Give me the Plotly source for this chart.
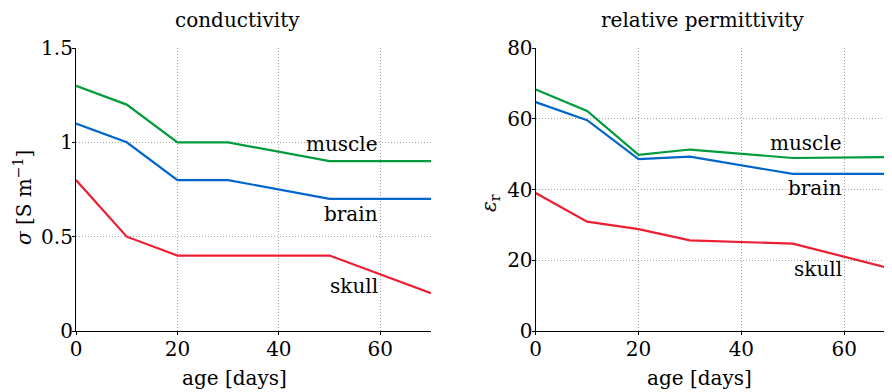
import plotly.graph_objects as go

# data
age = [0, 10, 20, 30, 50, 70]
cond_muscle = [1.3, 1.2, 1.0, 1.0, 0.9, 0.9]
cond_brain = [1.1, 1.0, 0.8, 0.8, 0.7, 0.7]
cond_skull_age = [0, 10, 20, 50, 70]
cond_skull = [0.8, 0.5, 0.4, 0.4, 0.2]

perm_muscle = [68.3, 62.2, 49.8, 51.3, 48.9, 49.2]
perm_brain = [64.7, 59.6, 48.6, 49.3, 44.4, 44.4]
perm_skull_age = [0, 10, 20, 30, 50, 60, 70]
perm_skull = [39.0, 30.9, 28.8, 25.6, 24.7, 21.0, 17.3]

cond_ticks = [0, 0.5, 1, 1.5]
cond_ticklabels = ["0", "0.5", "1", "1.5"]
perm_ticks = [0, 20, 40, 60, 80]
age_ticks = [0, 20, 40, 60]

GREEN = "rgb(0,155,60)"
BLUE = "rgb(0,102,204)"
RED = "rgb(237,30,50)"
FONT = "DejaVu Serif"
FS = 20

# page body has an 8px default margin: lay out in screen pixels, shifted by OFF
OFF = 8
W, H = 892 - OFF, 392 - OFF
MT = 48 - OFF
MB = H - (331 - OFF)
PH = H - MT - MB

def px_x(p):
    return (p - OFF) / W

def px_y(p):
    return (H - MB - (p - OFF)) / PH

fig = go.Figure()
lw = 2.2
fig.add_trace(go.Scatter(x=age, y=cond_muscle, mode="lines", line=dict(color=GREEN, width=lw), xaxis="x", yaxis="y"))
fig.add_trace(go.Scatter(x=age, y=cond_brain, mode="lines", line=dict(color=BLUE, width=lw), xaxis="x", yaxis="y"))
fig.add_trace(go.Scatter(x=cond_skull_age, y=cond_skull, mode="lines", line=dict(color=RED, width=lw), xaxis="x", yaxis="y"))
fig.add_trace(go.Scatter(x=age, y=perm_muscle, mode="lines", line=dict(color=GREEN, width=lw), xaxis="x2", yaxis="y2"))
fig.add_trace(go.Scatter(x=age, y=perm_brain, mode="lines", line=dict(color=BLUE, width=lw), xaxis="x2", yaxis="y2"))
fig.add_trace(go.Scatter(x=perm_skull_age, y=perm_skull, mode="lines", line=dict(color=RED, width=lw), xaxis="x2", yaxis="y2"))

axis_common = dict(
    showline=True, linecolor="black", linewidth=1.2, mirror=False,
    showgrid=True, gridcolor="rgb(165,165,165)", griddash="1px,2px", gridwidth=1,
    zeroline=False, ticks="outside", ticklen=3, tickcolor="black",
    tickfont=dict(family=FONT, size=FS, color="black"),
    automargin=False,
)
xa = dict(axis_common, ticklabelstandoff=-3)
ya = dict(axis_common, ticklabelstandoff=-5)

fig.update_layout(
    width=W, height=H,
    margin=dict(l=0, r=0, t=MT, b=MB, autoexpand=False),
    paper_bgcolor="white", plot_bgcolor="white",
    showlegend=False,
    font=dict(family=FONT, size=FS, color="black"),
    xaxis=dict(domain=[px_x(76), px_x(431)], range=[0, 70], tickvals=age_ticks, anchor="y", **xa),
    yaxis=dict(domain=[0, 1], range=[0, 1.5], tickvals=cond_ticks, ticktext=cond_ticklabels, anchor="x", **ya),
    xaxis2=dict(domain=[px_x(535.7), 1.0], range=[0, 69.3], tickvals=age_ticks, anchor="y2", **xa),
    yaxis2=dict(domain=[0, 1], range=[0, 80], tickvals=perm_ticks, anchor="x2", **ya),
)

ann = []
def add_text(text, x, y, xref, yref, xanchor="center", angle=0):
    ann.append(dict(text=text, x=x, y=y, xref=xref, yref=yref, xanchor=xanchor,
                    yanchor="middle", showarrow=False, textangle=angle,
                    font=dict(family=FONT, size=FS, color="black")))

# titles
add_text("conductivity", px_x(237.5), px_y(20), "paper", "paper")
add_text("relative permittivity", px_x(702), px_y(20), "paper", "paper")
add_text("age [days]", px_x(235), px_y(378), "paper", "paper")
add_text("age [days]", px_x(699.5), px_y(378), "paper", "paper")
add_text("<i>σ</i> [S m<sup>−1</sup>]", px_x(23), px_y(198), "paper", "paper", angle=-90)
add_text("<i>ε</i><sub>r</sub>", px_x(490), px_y(203), "paper", "paper", angle=-90)

# series labels
add_text("muscle", 60, 0.99, "x", "y", xanchor="right")
add_text("brain", 60, 0.62, "x", "y", xanchor="right")
add_text("skull", 60, 0.24, "x", "y", xanchor="right")
add_text("muscle", 60, 53.1, "x2", "y2", xanchor="right")
add_text("brain", 60, 40.5, "x2", "y2", xanchor="right")
add_text("skull", 60, 17.4, "x2", "y2", xanchor="right")

fig.update_layout(annotations=ann)
fig.write_html("out.html")
